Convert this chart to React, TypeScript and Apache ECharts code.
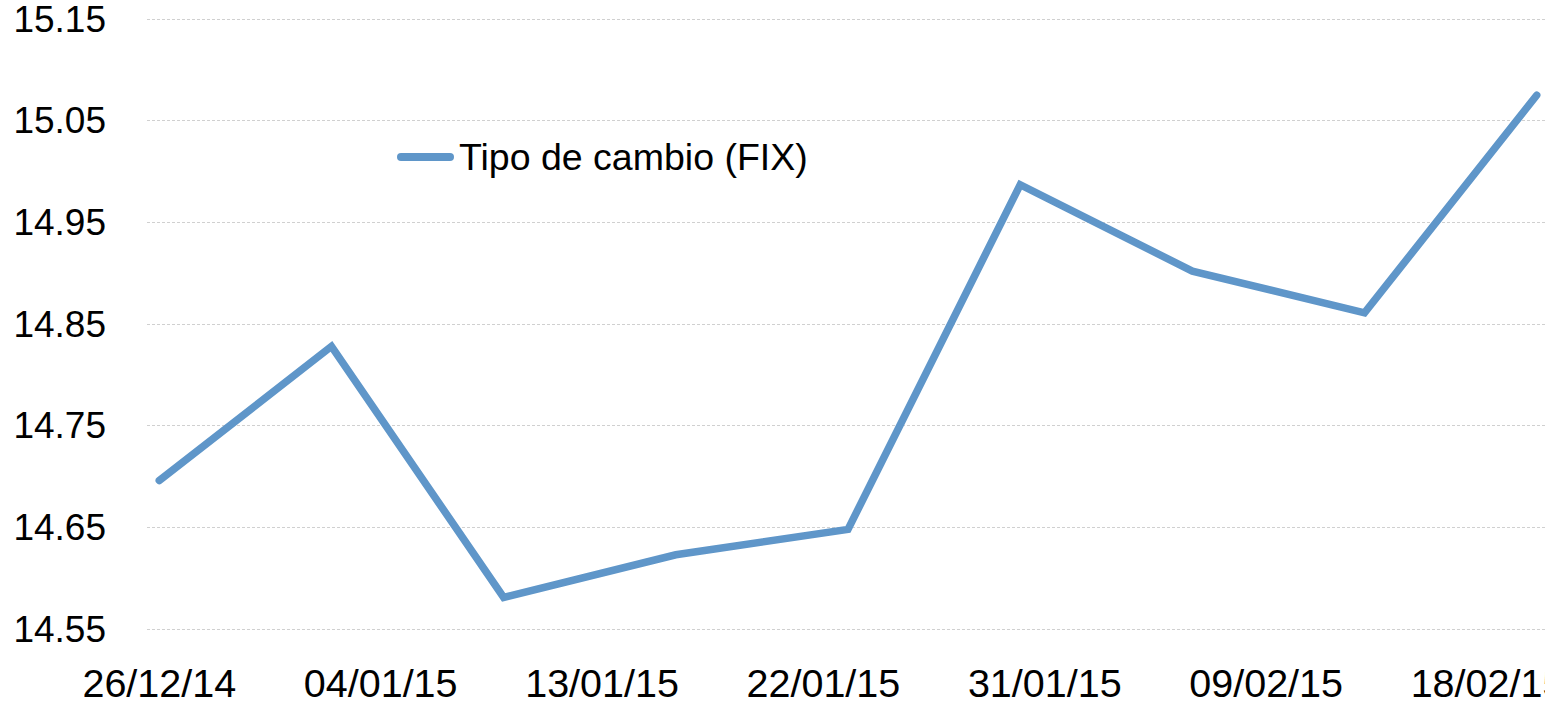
import React, { useEffect, useRef } from "react";
import * as echarts from "echarts";

const seriesName = "Tipo de cambio (FIX)";
const dates: [number, number, number][] = [
  [2014, 12, 26],
  [2015, 1, 2],
  [2015, 1, 9],
  [2015, 1, 16],
  [2015, 1, 23],
  [2015, 1, 30],
  [2015, 2, 6],
  [2015, 2, 13],
  [2015, 2, 20],
];
const values = [14.696, 14.828, 14.581, 14.623, 14.648, 14.987, 14.902, 14.861, 15.075];
const xLabelDates: [number, number, number][] = [
  [2014, 12, 26],
  [2015, 1, 4],
  [2015, 1, 13],
  [2015, 1, 22],
  [2015, 1, 31],
  [2015, 2, 9],
  [2015, 2, 18],
];
const yTicks = [14.55, 14.65, 14.75, 14.85, 14.95, 15.05, 15.15];

const toTime = (d: [number, number, number]) => new Date(d[0], d[1] - 1, d[2]).getTime();
const pad = (n: number) => (n < 10 ? "0" + n : "" + n);

export default function App() {
  const ref = useRef<HTMLDivElement>(null);
  useEffect(() => {
    if (!ref.current) return;
    const chart = echarts.init(ref.current, undefined, { renderer: "svg" });
    const halfDay = 12 * 3600 * 1000;
    const xMin = toTime(dates[0]) - halfDay;
    const xMax = toTime(dates[dates.length - 1]) + halfDay;
    chart.setOption({
      animation: false,
      backgroundColor: "#ffffff",
      grid: {
        left: 147,
        right: -4,
        top: 19,
        bottom: 75,
        containLabel: false,
        outerBoundsMode: "none",
      },
      legend: {
        show: true,
        left: 392,
        top: 132,
        icon: "path://M4 0H53A4 4 0 0 1 53 8H4A4 4 0 0 1 4 0Z",
        itemWidth: 57,
        itemHeight: 8,
        textStyle: { fontFamily: "Liberation Sans", fontSize: 37.5, color: "#000000", lineHeight: 40 },
        data: [seriesName],
      },
      xAxis: {
        type: "value",
        min: xMin,
        max: xMax,
        axisLine: { show: false },
        axisTick: { show: false, customValues: xLabelDates.map(toTime) },
        splitLine: { show: false },
        axisLabel: {
          customValues: xLabelDates.map(toTime),
          margin: 37,
          fontFamily: "Liberation Sans",
          fontSize: 39.5,
          lineHeight: 34,
          color: "#000000",
          formatter: (v: number) => {
            const d = new Date(v);
            return pad(d.getDate()) + "/" + pad(d.getMonth() + 1) + "/" + pad(d.getFullYear() % 100);
          },
        },
      },
      yAxis: {
        type: "value",
        min: 14.55,
        max: 15.15,
        axisLine: { show: false },
        axisTick: { show: false, customValues: yTicks },
        splitLine: { show: true, lineStyle: { color: "#d0d0d0", width: 1, type: [3, 2] } },
        axisLabel: {
          customValues: yTicks,
          margin: 41,
          fontFamily: "Liberation Sans",
          fontSize: 37,
          color: "#000000",
          padding: [8, 0, 0, 0],
          formatter: (v: number) => v.toFixed(2),
        },
      },
      series: [
        {
          name: seriesName,
          type: "line",
          data: dates.map((d, i) => [toTime(d), values[i]]),
          symbol: "none",
          showSymbol: false,
          lineStyle: { color: "#5f96c9", width: 7.5, cap: "round", join: "miter" },
          itemStyle: { color: "#5f96c9" },
        },
      ],
    });
    return () => chart.dispose();
  }, []);
  return (
    <div
      ref={ref}
      style={{ position: "fixed", left: 0, top: 0, width: 1545, height: 704, background: "#fff" }}
    />
  );
}
